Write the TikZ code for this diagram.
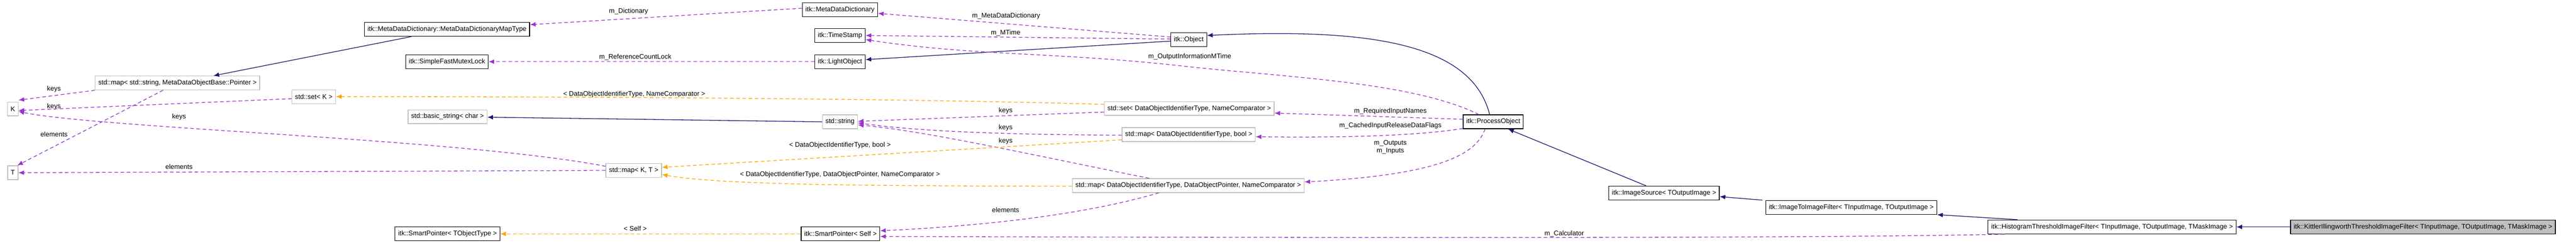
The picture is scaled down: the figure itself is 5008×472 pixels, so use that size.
\documentclass[tikz,border=0pt]{standalone}
\usepackage{fontspec}
\setmainfont{Liberation Sans}
\usetikzlibrary{arrows.meta}
\definecolor{pur}{HTML}{9A32CD}
\definecolor{org}{HTML}{FFA500}
\definecolor{nav}{HTML}{191970}
\definecolor{gb}{HTML}{BFBFBF}
\begin{document}
\begin{tikzpicture}[x=1pt,y=-1pt,
  every node/.style={font=\fontsize{13}{15}\selectfont},
  cls/.style={draw=black,line width=1.3pt,fill=white,minimum height=27pt,inner xsep=6pt,inner ysep=2pt},
  ext/.style={draw=gb,line width=1.3pt,fill=white,minimum height=27pt,inner xsep=6pt,inner ysep=2pt},
  lab/.style={inner sep=1pt,align=center},
  pa/.style={draw=pur,line width=1.3pt,dash pattern=on 7pt off 5pt,-{Latex[length=11pt,width=9pt]}},
  oa/.style={draw=org,line width=1.3pt,dash pattern=on 7pt off 5pt,-{Latex[length=11pt,width=9pt]}},
  na/.style={draw=nav,line width=1.3pt,-{Latex[length=11pt,width=9pt]}}]
\useasboundingbox (0,0) rectangle (5008,472);
% nodes
\node[cls] (mt) at (869,57) {itk::MetaDataDictionary::MetaDataDictionaryMapType};
\node[cls] (mx) at (869,120) {itk::SimpleFastMutexLock};
\node[ext] (sm) at (345,161.5) {std::map< std::string, MetaDataObjectBase::Pointer >};
\node[ext] (sk) at (610,188) {std::set< K >};
\node[ext] (k) at (25,212) {K};
\node[ext] (bs) at (870,227) {std::basic\_string< char >};
\node[ext] (t) at (25,336) {T};
\node[ext] (kt) at (1232,331.5) {std::map< K, T >};
\node[cls] (spt) at (870,455) {itk::SmartPointer< TObjectType >};
\node[cls] (mdd) at (1633,19) {itk::MetaDataDictionary};
\node[cls] (ts) at (1633,69) {itk::TimeStamp};
\node[cls] (lo) at (1633,120) {itk::LightObject};
\node[cls] (obj) at (2311,77) {itk::Object};
\node[ext] (sdn) at (2312,211) {std::set< DataObjectIdentifierType, NameComparator >};
\node[ext] (str) at (1633,237) {std::string};
\node[ext] (mdb) at (2311,262) {std::map< DataObjectIdentifierType, bool >};
\node[ext] (mdp) at (2310,361) {std::map< DataObjectIdentifierType, DataObjectPointer, NameComparator >};
\node[cls] (sps) at (1634,455) {itk::SmartPointer< Self >};
\node[cls] (po) at (2903,237) {itk::ProcessObject};
\node[cls] (is) at (3235,375.5) {itk::ImageSource< TOutputImage >};
\node[cls] (itif) at (3599,403.5) {itk::ImageToImageFilter< TInputImage, TOutputImage >};
\node[cls] (hist) at (4106,441.5) {itk::HistogramThresholdImageFilter< TInputImage, TOutputImage, TMaskImage >};
\node[cls,fill=gb] (kit) at (4710.5,441.5) {itk::KittlerIllingworthThresholdImageFilter< TInputImage, TOutputImage, TMaskImage >};
% labels
\node[lab] (l1) at (1222,22) {m\_Dictionary};
\node[lab] (l3) at (1235,111) {m\_ReferenceCountLock};
\node[lab] (l4) at (105,173) {keys};
\node[lab] (l6) at (105,207) {keys};
\node[lab] (l7) at (348,228) {keys};
\node[lab] (l5) at (105,261) {elements};
\node[lab] (l8) at (348,324) {elements};
\node[lab] (l9) at (1233,183) {< DataObjectIdentifierType, NameComparator >};
\node[lab] (l11) at (1956,31) {m\_MetaDataDictionary};
\node[lab] (l12) at (1955,64) {m\_MTime};
\node[lab] (l14) at (2313,110) {m\_OutputInformationMTime};
\node[lab] (l16) at (1955,215) {keys};
\node[lab] (l17) at (1955,249) {keys};
\node[lab] (l18) at (1955,275) {keys};
\node[lab] (l19) at (1633,283) {< DataObjectIdentifierType, bool >};
\node[lab] (l20) at (1633,340) {< DataObjectIdentifierType, DataObjectPointer, NameComparator >};
\node[lab] (l21) at (1955,409) {elements};
\node[lab] (l22) at (1235,445) {< Self >};
\node[lab] (l23) at (2703,216) {m\_RequiredInputNames};
\node[lab] (l24) at (2703,245) {m\_CachedInputReleaseDataFlags};
\node[lab] (l25) at (2703,286) {m\_Outputs\\m\_Inputs};
\node[lab] (l30) at (3041,455) {m\_Calculator};
% edges
\draw[pa] ([yshift=3]mdd.west) -- ([yshift=9]mt.east);
\draw[na] ([xshift=-69]mt.south) -- ([xshift=70]sm.north);
\draw[pa] (lo.west) -- (mx.east);
\draw[pa] (sm.south west) -- ([yshift=3]k.north east);
\draw[pa] ([xshift=-28]sm.south) -- ([xshift=-2]t.north east);
\draw[pa] ([yshift=-4]sk.west) -- ([yshift=-3]k.east);
\draw[pa] ([yshift=8]kt.west) .. controls (900,270) and (200,250) .. ([yshift=-5]k.east);
\draw[pa] (kt.west) -- (t.east);
\draw[oa] ([yshift=8]sdn.west) .. controls (1700,190) and (1000,188) .. (sk.east);
\draw[na] (str.west) -- ([yshift=-1]bs.east);
\draw[pa] ([yshift=5]obj.west) -- ([yshift=-7]mdd.east);
\draw[pa] ([yshift=1]obj.west) -- (ts.east);
\draw[na] ([yshift=-3]obj.west) -- ([yshift=4]lo.east);
\draw[pa] ([xshift=-28]po.north) .. controls (2750,160) and (2500,150) .. (2313,130) .. controls (2050,100) and (1900,110) .. ([yshift=-8]ts.east);
\draw[na] ([xshift=-7]po.north) .. controls (2860,80) and (2650,55) .. ([yshift=8]obj.east);
\draw[pa] ([yshift=-7]sdn.west) -- ([yshift=1]str.east);
\draw[pa] ([yshift=-1]mdb.west) .. controls (2000,262) and (1800,258) .. ([yshift=-2]str.east);
\draw[pa] ([xshift=-76]mdp.north) .. controls (2000,300) and (1800,255) .. ([yshift=-6]str.east);
\draw[oa] ([yshift=-10]mdb.west) -- ([yshift=6]kt.east);
\draw[oa] ([yshift=-1]mdp.west) .. controls (1700,362) and (1400,360) .. ([yshift=-8]kt.east);
\draw[pa] ([xshift=-57]mdp.south) .. controls (2100,420) and (1900,440) .. ([yshift=6]sps.east);
\draw[oa] (sps.west) -- (spt.east);
\draw[pa] ([yshift=5]po.west) -- ([yshift=-9]sdn.east);
\draw[pa] ([yshift=-13]po.west) .. controls (2750,265) and (2600,268) .. ([yshift=-4]mdb.east);
\draw[pa] ([xshift=-16]po.south) .. controls (2870,300) and (2800,340) .. ([yshift=7]mdp.east);
\draw[na] ([xshift=-35]is.north) -- ([xshift=-30]po.south east);
\draw[na] ([xshift=-173]itif.north) -- ([yshift=-7]is.east);
\draw[na] ([xshift=-184]hist.north) -- (itif.south east);
\draw[na] (kit.west) -- (hist.east);
\draw[pa] ([xshift=-210]hist.south) .. controls (3600,462) and (3000,464) .. ([yshift=-5]sps.east);
\end{tikzpicture}
\end{document}
